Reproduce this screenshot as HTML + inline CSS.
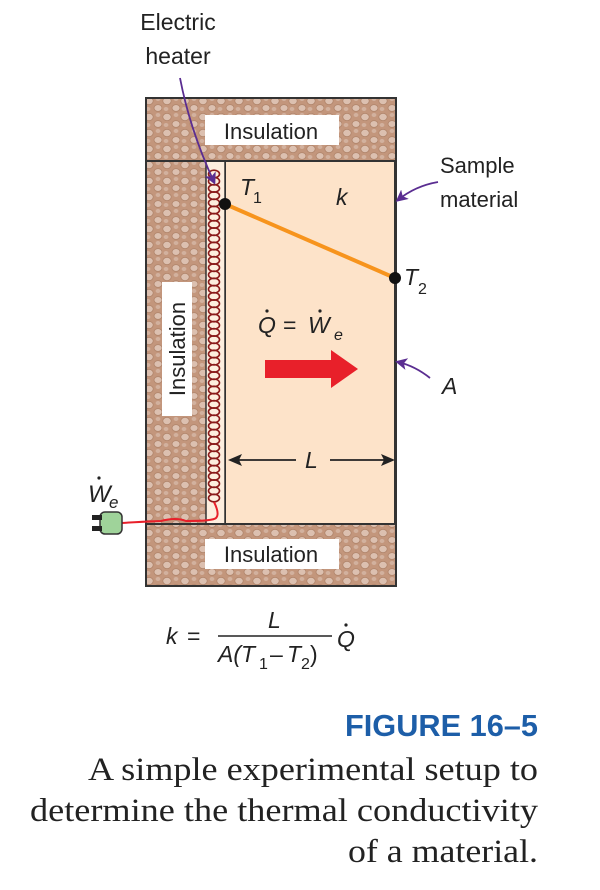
<!DOCTYPE html>
<html><head><meta charset="utf-8"><style>
body{margin:0;background:#fff;width:600px;height:890px;overflow:hidden}
svg{display:block}
</style></head><body>
<svg id="s" width="600" height="890" viewBox="0 0 600 890" xmlns="http://www.w3.org/2000/svg" font-family="Liberation Sans, sans-serif">
<defs>
<pattern id="ins" width="18" height="16" patternUnits="userSpaceOnUse">
<rect width="18" height="16" fill="#c3967c"/>
<ellipse cx="5" cy="5" rx="4.2" ry="3.6" fill="#dcc0b0" stroke="#b0846a" stroke-width="0.8"/>
<ellipse cx="14" cy="12" rx="4" ry="3.4" fill="#dcc0b0" stroke="#b0846a" stroke-width="0.8"/>
<ellipse cx="14" cy="3" rx="2.4" ry="2" fill="#d2b19e"/>
<ellipse cx="4" cy="13" rx="2.4" ry="2" fill="#d2b19e"/>
</pattern>
<marker id="pa" markerWidth="12" markerHeight="12" refX="9" refY="6" orient="auto" markerUnits="userSpaceOnUse"><path d="M0,0 L12,6 L0,12 L3,6z" fill="#5a2d91"/></marker>
</defs>
<text x="178" y="30" font-size="23" text-anchor="middle" fill="#222">Electric</text>
<text x="178" y="64" font-size="23" text-anchor="middle" fill="#222">heater</text>
<rect x="146" y="98" width="250" height="488" fill="url(#ins)" stroke="#333" stroke-width="2"/>
<rect x="225" y="161" width="170" height="363" fill="#fde3c9" stroke="#333" stroke-width="2"/>
<rect x="206" y="161" width="19" height="363" fill="#fdeede" stroke="#333" stroke-width="1.5"/>
<line x1="146" y1="161" x2="396" y2="161" stroke="#333" stroke-width="2"/>
<line x1="146" y1="524" x2="396" y2="524" stroke="#333" stroke-width="2"/>
<g id="coil" fill="none" stroke="#8b1a1a" stroke-width="1.6"></g>
<path d="M214 502 q6 12 2 16 q-3 3 -30 3 q-10 -4 -25 0 q-25 1 -40 2" fill="none" stroke="#e8202a" stroke-width="2"/>
<rect x="100" y="512" width="22" height="22" rx="5" fill="#9fd39a" stroke="#333" stroke-width="1.5"/>
<rect x="92" y="515" width="10" height="5" fill="#222"/>
<rect x="92" y="526" width="10" height="5" fill="#222"/>
<text x="88" y="502" font-size="24" font-style="italic" fill="#222">W</text>
<text x="109" y="508" font-size="17" font-style="italic" fill="#222">e</text>
<circle cx="99" cy="478" r="1.6" fill="#222"/>
<rect x="205" y="115" width="134" height="30" fill="#fff"/>
<text x="271" y="139" font-size="22" text-anchor="middle" fill="#222">Insulation</text>
<rect x="205" y="539" width="134" height="30" fill="#fff"/>
<text x="271" y="562" font-size="22" text-anchor="middle" fill="#222">Insulation</text>
<rect x="162" y="282" width="30" height="134" fill="#fff"/>
<text transform="translate(185,349) rotate(-90)" font-size="22" text-anchor="middle" fill="#222">Insulation</text>
<line x1="225" y1="204" x2="395" y2="278" stroke="#f7941d" stroke-width="4"/>
<circle cx="225" cy="204" r="6" fill="#111"/>
<circle cx="395" cy="278" r="6" fill="#111"/>
<text x="240" y="195" font-size="23" font-style="italic" fill="#222">T</text>
<text x="253" y="203" font-size="16" fill="#222">1</text>
<text x="336" y="205" font-size="23" font-style="italic" fill="#222">k</text>
<text x="404" y="285" font-size="23" font-style="italic" fill="#222">T</text>
<text x="418" y="294" font-size="16" fill="#222">2</text>
<text x="258" y="333" font-size="23" font-style="italic" fill="#222">Q</text>
<circle cx="267" cy="311" r="1.6" fill="#222"/>
<text x="283" y="333" font-size="23" fill="#222">=</text>
<text x="308" y="333" font-size="23" font-style="italic" fill="#222">W</text>
<circle cx="320" cy="311" r="1.6" fill="#222"/>
<text x="334" y="340" font-size="16" font-style="italic" fill="#222">e</text>
<path d="M265 360 L331 360 L331 350 L358 369 L331 388 L331 378 L265 378z" fill="#e8202a"/>
<line x1="236" y1="460" x2="296" y2="460" stroke="#222" stroke-width="1.8"/>
<path d="M228 460 L242 454 L239 460 L242 466z" fill="#222"/>
<line x1="330" y1="460" x2="388" y2="460" stroke="#222" stroke-width="1.8"/>
<path d="M395 460 L381 454 L384 460 L381 466z" fill="#222"/>
<text x="305" y="468" font-size="23" font-style="italic" fill="#222">L</text>
<text x="440" y="173" font-size="22" fill="#222">Sample</text>
<text x="440" y="207" font-size="22" fill="#222">material</text>
<path d="M438 182 Q415 186 398 200" fill="none" stroke="#5a2d91" stroke-width="1.8" marker-end="url(#pa)"/>
<path d="M430 378 Q415 366 398 362" fill="none" stroke="#5a2d91" stroke-width="1.8" marker-end="url(#pa)"/>
<text x="442" y="394" font-size="23" font-style="italic" fill="#222">A</text>
<path d="M180 78 Q190 130 214 182" fill="none" stroke="#5a2d91" stroke-width="1.8" marker-end="url(#pa)"/>
<text x="166" y="644" font-size="23" font-style="italic" fill="#222">k</text>
<text x="187" y="644" font-size="23" fill="#222">=</text>
<line x1="218" y1="636" x2="332" y2="636" stroke="#222" stroke-width="1.5"/>
<text x="268" y="628" font-size="23" font-style="italic" fill="#222">L</text>
<text x="218" y="662" font-size="23" font-style="italic" fill="#222">A(T</text>
<text x="259" y="669" font-size="16" fill="#222">1</text>
<text x="270" y="662" font-size="23" fill="#222">–</text>
<text x="287" y="662" font-size="23" font-style="italic" fill="#222">T</text>
<text x="301" y="669" font-size="16" fill="#222">2</text>
<text x="310" y="662" font-size="23" fill="#222">)</text>
<text x="337" y="647" font-size="23" font-style="italic" fill="#222">Q</text>
<circle cx="346" cy="625" r="1.6" fill="#222"/>
<text x="345" y="736" font-size="31" font-weight="bold" fill="#1d5ea8" textLength="193" lengthAdjust="spacingAndGlyphs">FIGURE 16–5</text>
<g font-family="Liberation Serif, serif" font-size="33" fill="#222">
<text x="88" y="780" textLength="450" lengthAdjust="spacingAndGlyphs">A simple experimental setup to</text>
<text x="30" y="821" textLength="508" lengthAdjust="spacingAndGlyphs">determine the thermal conductivity</text>
<text x="348" y="862" textLength="190" lengthAdjust="spacingAndGlyphs">of a material.</text>
</g>
</svg>
<script>
var g=document.getElementById('coil'),h='';
for(var y=174;y<=500;y+=7.2){h+='<ellipse cx="214" cy="'+y+'" rx="5.5" ry="3.8"/>';}
g.innerHTML=h;
</script>
</body></html>
